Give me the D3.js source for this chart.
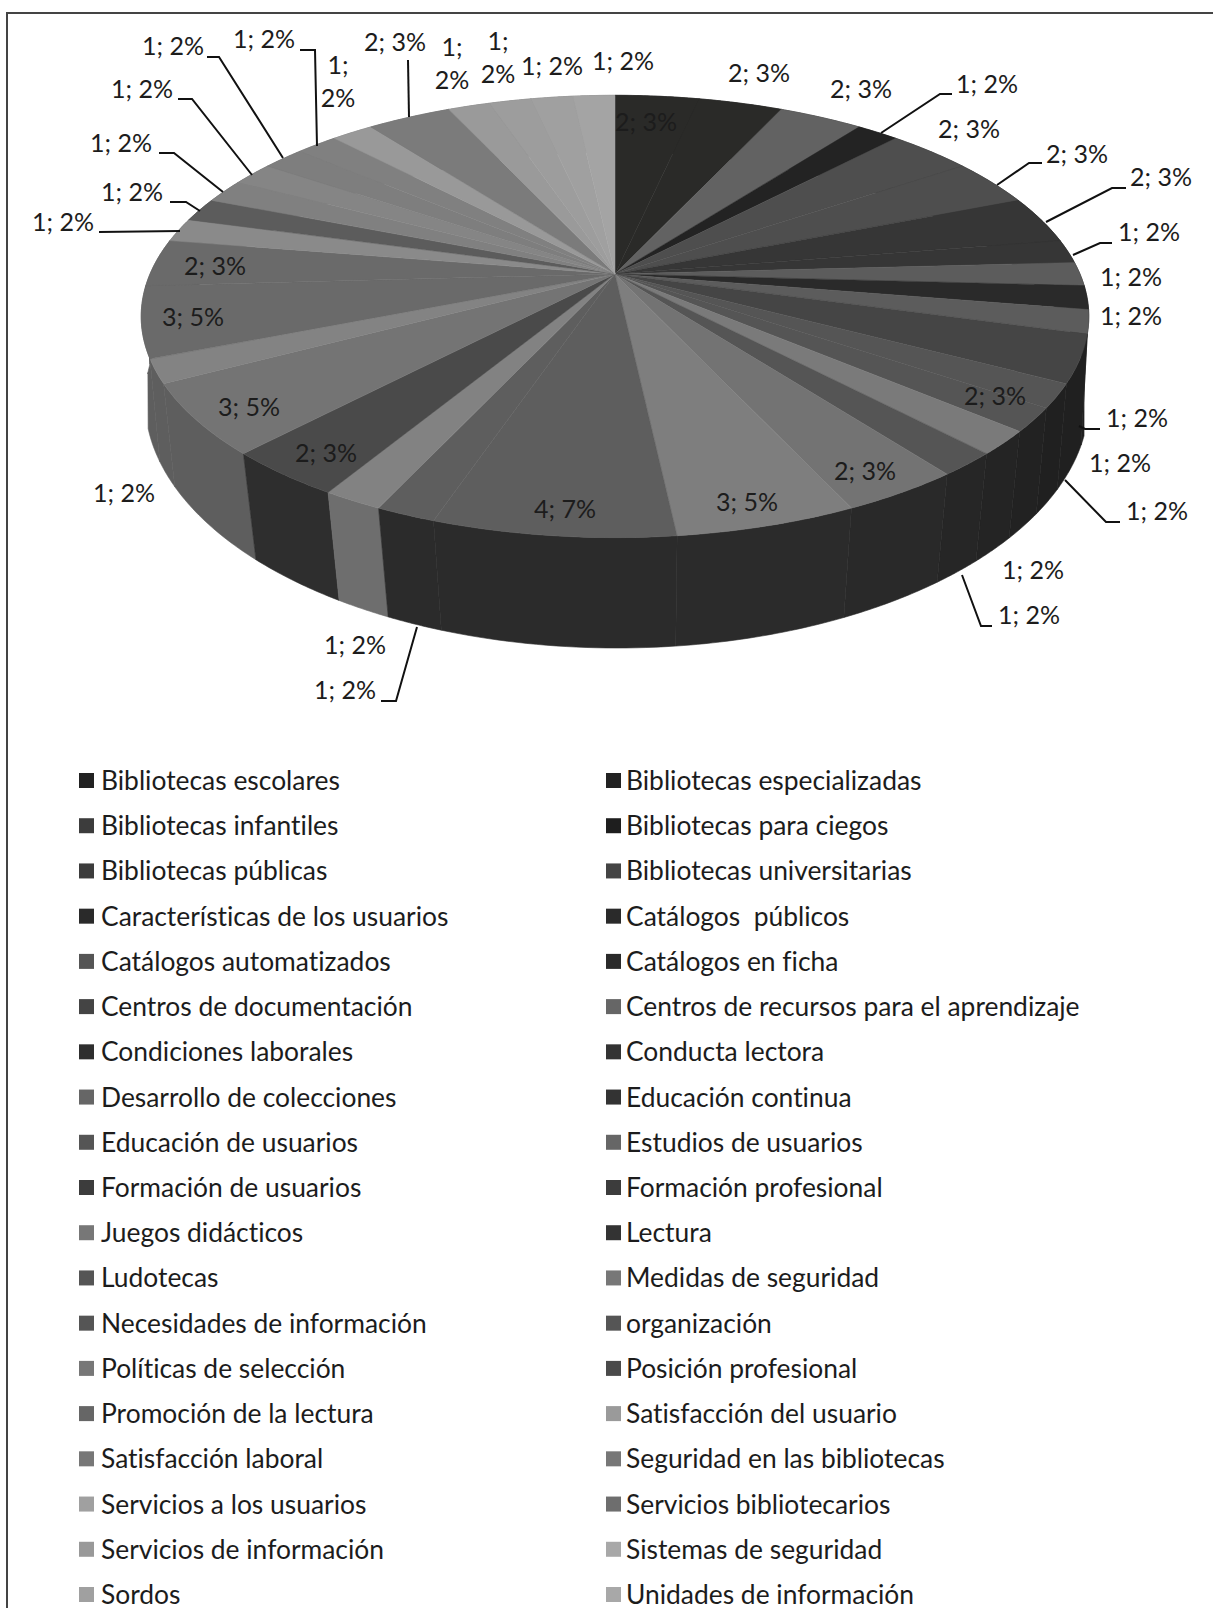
<!DOCTYPE html>
<html><head><meta charset="utf-8">
<style>html,body{margin:0;padding:0;background:#fff}svg{display:block}text{font-family:Lato,"Open Sans",sans-serif;fill:#1c1c1c;font-variant-ligatures:none}</style>
<script src="https://cdn.jsdelivr.net/npm/d3@7"></script></head><body><svg id="c" width="1213" height="1608"></svg>
<script>
const categories = ["Bibliotecas escolares","Bibliotecas especializadas","Bibliotecas infantiles","Bibliotecas para ciegos","Bibliotecas públicas","Bibliotecas universitarias","Características de los usuarios","Catálogos  públicos","Catálogos automatizados","Catálogos en ficha","Centros de documentación","Centros de recursos para el aprendizaje","Condiciones laborales","Conducta lectora","Desarrollo de colecciones","Educación continua","Educación de usuarios","Estudios de usuarios","Formación de usuarios","Formación profesional","Juegos didácticos","Lectura","Ludotecas","Medidas de seguridad","Necesidades de información","organización","Políticas de selección","Posición profesional","Promoción de la lectura","Satisfacción del usuario","Satisfacción laboral","Seguridad en las bibliotecas","Servicios a los usuarios","Servicios bibliotecarios","Servicios de información","Sistemas de seguridad","Sordos","Unidades de información"];
const values = [2,2,2,1,2,2,2,1,1,1,1,2,1,1,1,1,2,3,4,1,1,2,3,1,3,2,1,1,1,1,1,1,1,2,1,1,1,1];
const percents = [3,3,3,2,3,3,3,2,2,2,2,3,2,2,2,2,3,5,7,2,2,3,5,2,5,3,2,2,2,2,2,2,2,3,2,2,2,2];
const topColors = ["#2a2a28","#2a2a28","#626262","#232323","#4e4e4e","#4e4e4e","#363636","#363636","#5c5c5c","#2a2a2a","#5c5c5c","#454545","#555555","#555555","#7a7a7a","#555555","#737373","#7e7e7e","#5e5e5e","#5e5e5e","#828282","#4a4a4a","#747474","#838383","#6a6a6a","#6a6a6a","#8a8a8a","#5c5c5c","#808080","#858585","#7e7e7e","#808080","#999999","#7b7b7b","#9a9a9a","#9d9d9d","#a0a0a0","#a4a4a4"];
const sideColors = ["#222","#222","#333","#1c1c1c","#2a2a2a","#2a2a2a","#222","#222","#202020","#202020","#202020","#202020","#202020","#222","#242424","#262626","#292929","#2b2b2b","#2b2b2b","#2b2b2b","#6e6e6e","#2e2e2e","#5e5e5e","#5e5e5e","#5e5e5e","#5e5e5e","#666","#444","#666","#666","#666","#666","#777","#666","#777","#777","#777","#777"];
const legendColors = ["#222","#222","#3c3c3c","#1e1e1e","#3c3c3c","#444","#2a2a2a","#2a2a2a","#555","#2a2a2a","#444","#666","#2e2e2e","#333","#666","#333","#555","#666","#3c3c3c","#3c3c3c","#777","#333","#555","#777","#555","#555","#777","#4a4a4a","#666","#9a9a9a","#777","#777","#a0a0a0","#6e6e6e","#999","#a8a8a8","#a0a0a0","#a8a8a8"];
const labelSpots = [[646,123],[759,74],[861,90],[987,85],[969,130],[1077,155],[1161,178],[1149,233],[1131,278],[1131,317],[1137,419],[995,397],[1120,464],[1157,512],[1033,571],[1029,616],[865,472],[747,503],[565,510],[345,691],[355,646],[326,454],[249,408],[124,494],[193,318],[215,267],[63,223],[132,193],[121,144],[142,90],[173,47],[264,40],[338,66],[395,43],[452,48],[498,42],[552,67],[623,62]];
const wrapped = new Set([32,34,35]);
const leaders = [[[881,133],[940,94],[952,94]],[[997,185],[1029,163],[1042,163]],[[1046,222],[1112,188],[1126,188]],[[1073,255],[1100,243],[1112,243]],[[1079,426],[1085,429],[1100,429]],[[1065,480],[1106,522],[1120,522]],[[962,575],[981,626],[992,626]],[[417,627],[396,701],[381,701]],[[99,232],[180,231]],[[170,202],[186,202],[200,211]],[[159,153],[174,153],[223,192]],[[178,99],[192,99],[252,175]],[[207,57],[219,57],[283,158]],[[300,50],[315,50],[317,146]],[[408,60],[409,117]]];

const svg = d3.select("#c");
// frame: only the top and left rules are present
svg.append("path").attr("d","M1213,13H7V1608").attr("fill","none").attr("stroke","#444").attr("stroke-width",2);

// perspective projection of the pie disc
const x0=615,y0=274,a=465,b=213,k=0.192;
const rim = t => { const u=Math.sin(t), v=-Math.cos(t), w=1-k*v; return [x0+a*u/w, y0+b*v/w]; };
// lower edge of the wall: its own ellipse, wider in depth than the top face
const low = t => {
  const p=rim(t), u=Math.sin(t), v=-Math.cos(t);
  const x = 617+(p[0]-616)*(472/474) - (v>0?20*u*v:0);
  const q = Math.sqrt(Math.max(0,1-((x-617)/472)**2));
  return [x, 400+(p[1]>=316?1:-1)*248*q];
};
const arcs = d3.pie().sort(null).value(d=>d).startAngle(0).endAngle(2*Math.PI)(values);
const steps = (s,e) => d3.range(0,25).map(i=>s+(e-s)*i/24);
const line = d3.line();

// walls, back to front
const order = d3.range(arcs.length).sort((p,q)=>Math.cos((arcs[q].startAngle+arcs[q].endAngle)/2)-Math.cos((arcs[p].startAngle+arcs[p].endAngle)/2));
svg.append("g").selectAll("path").data(order).join("path")
  .attr("d",i=>{const ts=steps(arcs[i].startAngle,arcs[i].endAngle);return line(ts.map(rim).concat(ts.slice().reverse().map(low)))+"Z";})
  .attr("fill",i=>sideColors[i]).attr("stroke",i=>sideColors[i]).attr("stroke-width",0.6);
// top
svg.append("g").selectAll("path").data(arcs).join("path")
  .attr("d",d=>line([[x0,y0]].concat(steps(d.startAngle,d.endAngle).map(rim)))+"Z")
  .attr("fill",(d,i)=>topColors[i]).attr("stroke",(d,i)=>topColors[i]).attr("stroke-width",0.5);

// leaders
svg.append("g").selectAll("path").data(leaders).join("path").attr("d",d=>line(d)).attr("fill","none").attr("stroke","#111").attr("stroke-width",2);

// data labels
const lab = svg.append("g").attr("font-size",25).attr("text-anchor","middle");
values.forEach((v,i)=>{
  const [x,y]=labelSpots[i];
  if(wrapped.has(i)){
    const t=lab.append("text").attr("x",x).attr("y",y+8);
    t.append("tspan").attr("x",x).text(v+";");
    t.append("tspan").attr("x",x).attr("dy",33).text(percents[i]+"%");
  } else lab.append("text").attr("x",x).attr("y",y+8).text(v+"; "+percents[i]+"%");
});

// legend
const rows = d3.range(Math.ceil(categories.length/2));
const yS = d3.scalePoint().domain(rows).range([780,1594]);
const colMark=[79,606], colText=[101,626];
const leg = svg.append("g");
categories.forEach((c,i)=>{
  const col=i%2, r=Math.floor(i/2);
  leg.append("rect").attr("x",colMark[col]).attr("y",yS(r)-7).attr("width",15).attr("height",15).attr("fill",legendColors[i]);
  leg.append("text").attr("x",colText[col]).attr("y",yS(r)+10).attr("font-size",26.4).style("white-space","pre").text(c);
});
</script></body></html>
